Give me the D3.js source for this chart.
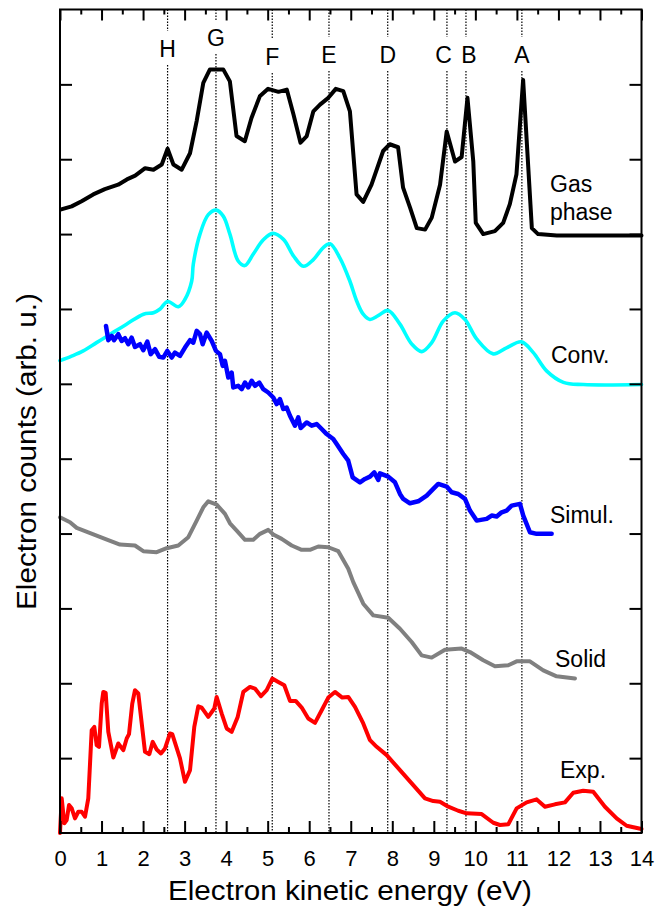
<!DOCTYPE html>
<html><head><meta charset="utf-8">
<script src="https://cdn.jsdelivr.net/npm/d3@7/dist/d3.min.js"></script>
<style>
html,body{margin:0;padding:0;background:#fff;}
svg{display:block;font-family:"Liberation Sans",Arial,sans-serif;}
</style></head>
<body>
<svg id="c" width="666" height="907"></svg>
<script>
// ---------------- data ----------------
const xTicks = [0,1,2,3,4,5,6,7,8,9,10,11,12,13,14];
const peakNames = ["H","G","F","E","D","C","B","A"];
const peakEnergy = [2.59,3.755,5.11,6.476,7.89,9.316,9.774,11.12];
const seriesNames = ["Gas phase","Conv.","Simul.","Solid","Exp."];

const gasX = [0.03,0.28,0.52,0.80,1.08,1.40,1.61,1.81,2.05,2.25,2.45,2.59,2.73,2.93,3.13,3.29,3.45,3.61,3.93,4.09,4.25,4.45,4.61,4.81,5.01,5.26,5.46,5.62,5.79,5.94,6.10,6.26,6.46,6.64,6.82,6.98,7.14,7.30,7.50,7.78,7.94,8.14,8.26,8.43,8.59,8.79,8.95,9.15,9.31,9.51,9.67,9.81,9.95,10.01,10.19,10.47,10.67,10.83,10.99,11.15,11.36,11.51,11.96,14.0];
const gasY = [8.33,8.37,8.44,8.53,8.60,8.66,8.73,8.78,8.88,8.86,8.93,9.14,8.93,8.86,9.08,9.51,10.02,10.20,10.20,10.04,9.31,9.24,9.55,9.84,9.94,9.90,9.93,9.60,9.22,9.31,9.64,9.73,9.82,9.94,9.91,9.64,8.53,8.43,8.66,9.11,9.20,9.16,8.62,8.35,8.08,8.06,8.22,8.66,9.37,8.97,9.03,9.82,8.97,8.15,8.00,8.04,8.15,8.40,8.80,10.06,8.08,8.00,7.98,7.98];

const convX = [0.00,0.28,0.56,0.88,1.20,1.61,2.01,2.25,2.41,2.59,2.85,3.01,3.17,3.21,3.37,3.57,3.76,3.93,4.09,4.29,4.45,4.65,4.89,5.12,5.38,5.62,5.86,6.10,6.34,6.50,6.74,6.98,7.14,7.30,7.46,7.66,7.90,8.18,8.47,8.71,8.95,9.23,9.51,9.75,10.03,10.43,10.75,11.11,11.39,11.72,12.12,12.60,14.00];
const convY = [6.31,6.37,6.44,6.55,6.66,6.80,6.93,6.95,7.00,7.10,7.03,7.13,7.37,7.60,8.00,8.26,8.32,8.24,8.00,7.64,7.58,7.73,7.92,8.01,7.93,7.71,7.57,7.66,7.82,7.87,7.68,7.37,7.11,6.93,6.86,6.91,6.98,6.80,6.53,6.43,6.55,6.84,6.95,6.86,6.60,6.40,6.48,6.56,6.42,6.17,6.02,5.99,5.99];

const simX = [1.107,1.163,1.245,1.300,1.403,1.485,1.565,1.644,1.726,1.805,1.926,2.005,2.102,2.183,2.287,2.390,2.487,2.583,2.689,2.768,2.889,3.009,3.130,3.209,3.291,3.370,3.435,3.532,3.652,3.755,3.852,3.917,3.972,4.052,4.133,4.172,4.292,4.374,4.454,4.533,4.615,4.694,4.798,4.894,5.014,5.135,5.217,5.296,5.376,5.457,5.537,5.657,5.737,5.794,5.939,6.059,6.180,6.300,6.420,6.579,6.661,6.820,6.940,7.046,7.222,7.342,7.463,7.566,7.663,7.703,7.903,8.065,8.185,8.264,8.425,8.625,8.828,8.987,9.107,9.309,9.429,9.588,9.750,9.870,10.031,10.272,10.392,10.513,10.633,10.753,10.874,11.074,11.153,11.314,11.476,11.837];
const simY = [6.773,6.583,6.640,6.583,6.663,6.573,6.609,6.529,6.617,6.493,6.529,6.449,6.564,6.396,6.463,6.360,6.351,6.440,6.351,6.417,6.373,6.484,6.583,6.551,6.707,6.663,6.529,6.684,6.573,6.440,6.396,6.240,6.307,6.084,6.151,5.951,5.973,5.929,6.017,5.951,6.040,5.973,6.017,5.929,5.884,5.817,5.729,5.796,5.663,5.684,5.573,5.440,5.551,5.409,5.484,5.440,5.463,5.396,5.329,5.263,5.196,5.063,4.973,4.751,4.684,4.729,4.760,4.817,4.716,4.804,4.760,4.684,4.529,4.463,4.404,4.431,4.507,4.596,4.663,4.627,4.551,4.529,4.463,4.307,4.173,4.196,4.240,4.227,4.284,4.307,4.373,4.396,4.240,4.017,3.996,3.996];

const solidX = [0.00,0.241,0.402,0.681,1.083,1.444,1.805,2.005,2.328,2.569,2.848,3.089,3.291,3.450,3.570,3.772,3.972,4.092,4.254,4.454,4.653,4.815,5.014,5.135,5.337,5.578,5.818,6.018,6.218,6.459,6.700,6.940,7.061,7.301,7.542,7.903,8.185,8.467,8.707,8.948,9.268,9.670,9.870,10.190,10.472,10.792,10.994,11.314,11.635,11.957,12.398];
const solidY = [4.217,4.151,4.076,4.017,3.929,3.853,3.840,3.764,3.751,3.804,3.840,3.951,4.173,4.351,4.431,4.387,4.263,4.137,4.040,3.916,3.916,3.996,4.049,3.987,3.929,3.840,3.783,3.783,3.827,3.817,3.764,3.529,3.351,3.063,2.907,2.876,2.729,2.551,2.373,2.343,2.449,2.463,2.417,2.307,2.227,2.240,2.293,2.293,2.173,2.093,2.063];

const expX = [0.00,0.041,0.104,0.161,0.217,0.282,0.361,0.441,0.522,0.602,0.681,0.763,0.826,0.883,0.939,1.004,1.042,1.100,1.163,1.283,1.403,1.524,1.606,1.661,1.740,1.805,1.885,2.046,2.150,2.232,2.328,2.431,2.528,2.648,2.703,2.889,3.009,3.130,3.233,3.329,3.411,3.570,3.715,3.772,3.893,4.013,4.133,4.278,4.413,4.574,4.694,4.839,4.976,5.111,5.255,5.400,5.537,5.674,5.819,5.977,6.139,6.300,6.459,6.620,6.796,6.940,7.102,7.301,7.463,7.624,7.865,8.185,8.505,8.787,8.987,9.148,9.348,9.588,9.791,10.152,10.431,10.592,10.792,10.994,11.235,11.476,11.676,11.916,12.157,12.357,12.597,12.838,13.120,13.402,13.642,14.0];
const expY = [0.00,0.463,0.129,0.173,0.373,0.329,0.196,0.284,0.284,0.217,0.463,1.373,1.417,1.173,1.151,1.729,1.884,1.871,1.351,1.009,1.196,1.107,1.263,1.320,1.729,1.907,1.863,1.084,1.053,1.217,1.116,1.063,1.129,1.329,1.320,0.996,0.684,0.840,1.417,1.693,1.676,1.551,1.663,1.817,1.596,1.396,1.351,1.551,1.884,1.951,1.929,1.827,1.907,2.063,2.017,1.973,1.764,1.764,1.676,1.529,1.471,1.640,1.809,1.884,1.809,1.817,1.684,1.463,1.240,1.151,1.040,0.840,0.640,0.463,0.427,0.417,0.351,0.297,0.263,0.253,0.137,0.107,0.116,0.329,0.409,0.449,0.351,0.383,0.409,0.537,0.564,0.551,0.351,0.196,0.097,0.053];

// ---------------- layout ----------------
const L = 60, R = 641.5, T = 9.5, B = 833;
const svg = d3.select("#c");
const x = d3.scaleLinear().domain([0,14]).range([L,R]);
const y = d3.scaleLinear().domain([0,11]).range([B,T]);

// peak marker lines (dotted), split around labels
const labelCY = {H:48,G:37,F:56,E:54,D:54,C:54,B:54,A:54};
const labelDX = {H:0,G:0,F:0,E:0,D:0,C:-3.5,B:3,A:0};
const gap = 17;
const gLines = svg.append("g");
peakNames.forEach((n,i)=>{
  const px = x(peakEnergy[i]);
  const cy = labelCY[n];
  gLines.append("line").attr("x1",px).attr("x2",px).attr("y1",T).attr("y2",cy-gap)
    .attr("stroke","#000").attr("stroke-width",1.2).attr("stroke-dasharray","1.5,1.5");
  gLines.append("line").attr("x1",px).attr("x2",px).attr("y1",cy+gap).attr("y2",B)
    .attr("stroke","#000").attr("stroke-width",1.2).attr("stroke-dasharray","1.5,1.5");
  svg.append("text").attr("x",px+labelDX[n]).attr("y",cy+8.5)
    .attr("text-anchor","middle").attr("font-size",23).attr("fill","#000").text(n);
});

// curves
function draw(xs, ys, color, w, curve){
  const line = d3.line().x(d=>x(d[0])).y(d=>y(d[1])).curve(curve||d3.curveLinear);
  svg.append("path").datum(xs.map((v,i)=>[v,ys[i]]))
    .attr("d",line).attr("fill","none").attr("stroke",color)
    .attr("stroke-width",w).attr("stroke-linejoin","round").attr("stroke-linecap","round");
}
draw(solidX, solidY, "#808080", 4);
draw(expX, expY, "#ff0000", 4);
draw(convX, convY, "#00ffff", 3.6, d3.curveCatmullRom.alpha(0.5));
draw(simX, simY, "#0000ff", 4.5);
draw(gasX, gasY, "#000000", 4);

// axes
function styleAxis(g){
  g.select(".domain").remove();
  g.selectAll(".tick line").attr("stroke","#000").attr("stroke-width",2);
}
const major = d3.range(0,14.01,1), minor = d3.range(0.5,14,1);
svg.append("g").attr("transform",`translate(0,${B})`)
  .call(d3.axisBottom(x).tickValues(major).tickSize(-12).tickPadding(17).tickFormat(d3.format("d")))
  .call(styleAxis)
  .call(g=>g.selectAll("text").attr("font-size",22).attr("font-family","Liberation Sans, Arial, sans-serif").attr("fill","#000"));
svg.append("g").attr("transform",`translate(0,${B})`)
  .call(d3.axisBottom(x).tickValues(minor).tickSize(-6).tickFormat(""))
  .call(styleAxis);
svg.append("g").attr("transform",`translate(0,${T})`)
  .call(d3.axisTop(x).tickValues(major).tickSize(-11).tickFormat(""))
  .call(styleAxis);
svg.append("g").attr("transform",`translate(0,${T})`)
  .call(d3.axisTop(x).tickValues(minor).tickSize(-5).tickFormat(""))
  .call(styleAxis);
const yt = d3.range(1,11);
svg.append("g").attr("transform",`translate(${L},0)`)
  .call(d3.axisLeft(y).tickValues(yt).tickSize(-12).tickFormat(""))
  .call(styleAxis);
svg.append("g").attr("transform",`translate(${R},0)`)
  .call(d3.axisRight(y).tickValues(yt).tickSize(-12).tickFormat(""))
  .call(styleAxis);

// frame
svg.append("rect").attr("x",L).attr("y",T).attr("width",R-L).attr("height",B-T)
  .attr("fill","none").attr("stroke","#000").attr("stroke-width",2);

// series labels
const seriesLabelPos = [[550,192],[551,363],[550,523],[555,667],[560,778]];
seriesNames.forEach((n,i)=>{
  const [lx,ly] = seriesLabelPos[i];
  if(n==="Gas phase"){
    const t = svg.append("text").attr("x",lx).attr("y",ly).attr("font-size",23).attr("fill","#000");
    t.append("tspan").attr("x",lx).attr("y",ly).text("Gas");
    t.append("tspan").attr("x",lx).attr("y",ly+28).text("phase");
  } else {
    svg.append("text").attr("x",lx).attr("y",ly).attr("font-size",23).attr("fill","#000").text(n);
  }
});

// axis titles
svg.append("text").attr("x",(168+532)/2).attr("y",900).attr("text-anchor","middle")
  .attr("font-size",27).attr("textLength",364).attr("lengthAdjust","spacingAndGlyphs")
  .attr("fill","#000").text("Electron kinetic energy (eV)");
svg.append("text").attr("transform","translate(36,451.5) rotate(-90)").attr("text-anchor","middle")
  .attr("font-size",27).attr("textLength",317).attr("lengthAdjust","spacingAndGlyphs")
  .attr("fill","#000").text("Electron counts (arb. u.)");
</script>
</body></html>
